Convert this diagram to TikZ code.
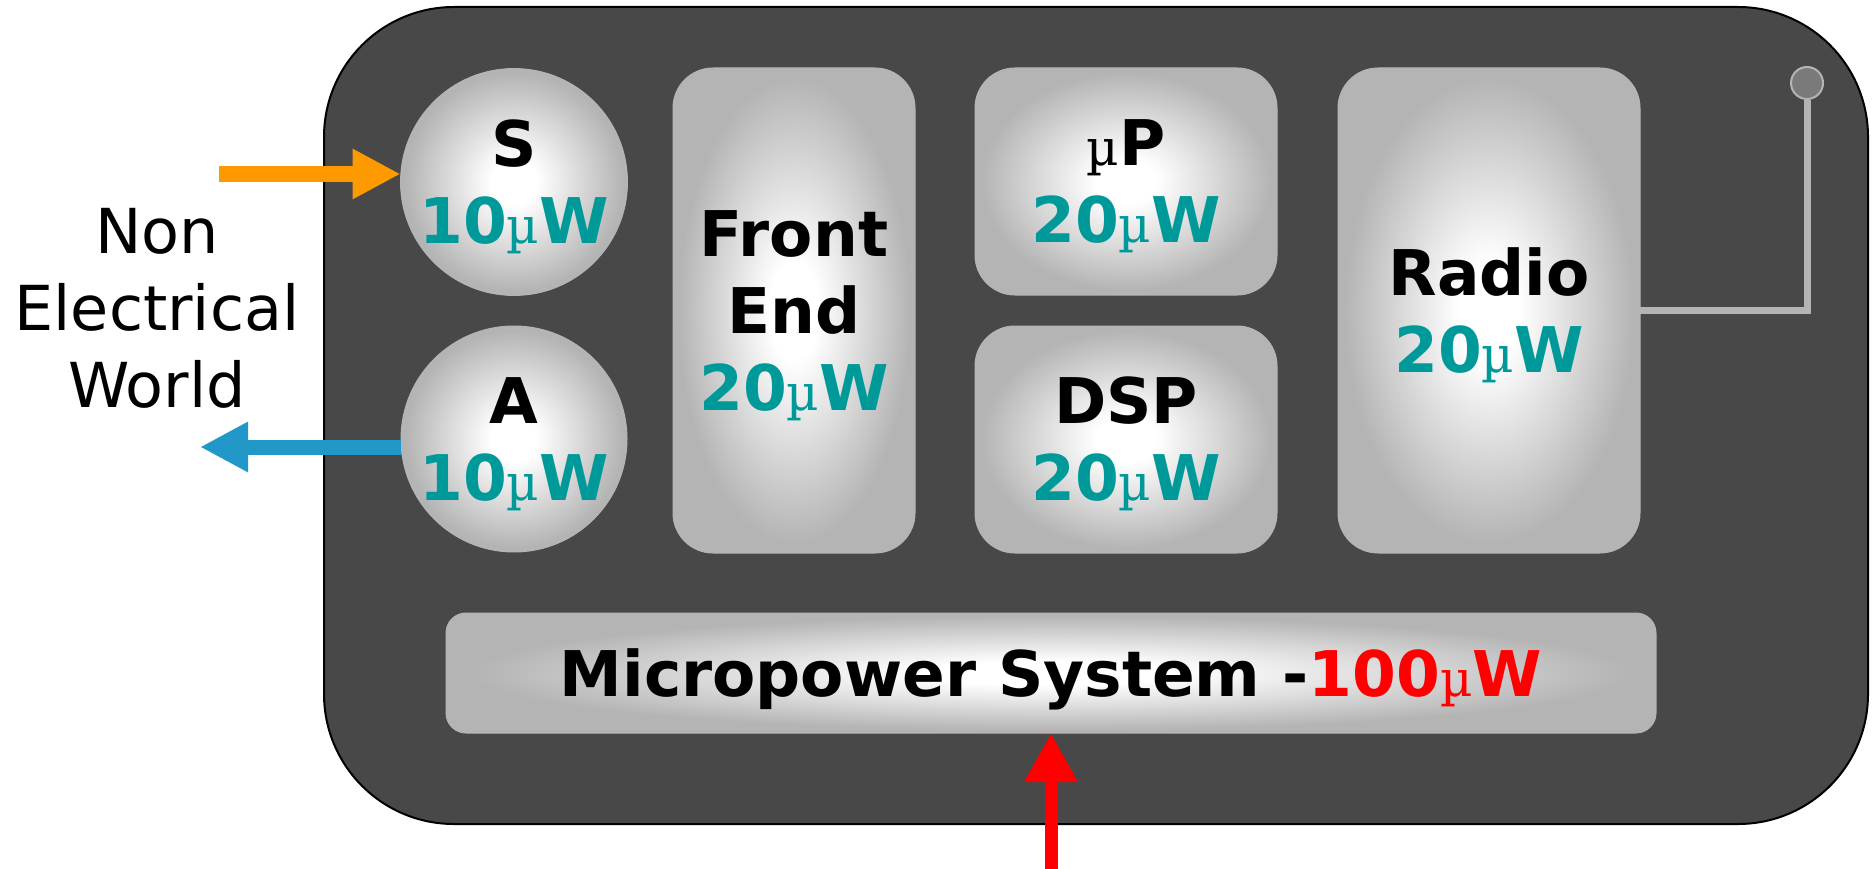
\documentclass[tikz,border=0pt]{standalone}
\usepackage{fontspec}
\setmainfont{DejaVu Sans}
\newfontfamily\mufont{DejaVu Serif}
\usetikzlibrary{arrows.meta}
\definecolor{boardgray}{RGB}{72,72,72}
\definecolor{boxgray}{RGB}{180,180,180}
\definecolor{antgray}{RGB}{122,122,122}
\definecolor{wteal}{RGB}{0,153,153}
\definecolor{worange}{RGB}{255,153,0}
\definecolor{wblue}{RGB}{33,152,200}
\definecolor{wred}{RGB}{255,0,0}
\pgfdeclareradialshading{glow}{\pgfpoint{0bp}{0bp}}{rgb(0bp)=(1,1,1);rgb(5bp)=(1,1,1);rgb(24bp)=(0.706,0.706,0.706);rgb(50bp)=(0.706,0.706,0.706)}
\newcommand{\umu}{\raisebox{0pt}[\height][0pt]{\mufont\mdseries\fontsize{50}{50}\selectfont µ}}
\tikzset{
  board/.style={draw=black, line width=2pt, fill=boardgray, rounded corners=130pt, inner sep=0pt, outer sep=0pt},
  unit/.style={shading=glow, draw=boxgray, line width=1pt, inner sep=0pt, outer sep=0pt, align=center, font=\fontsize{63}{77}\selectfont\bfseries},
  blk/.style={unit, rectangle, rounded corners=40pt},
  ball/.style={unit, circle, minimum size=226pt},
  inarrow/.style={draw=worange, line width=16pt, -{Triangle[length=48pt,width=47pt]}},
  outarrow/.style={draw=wblue, line width=15pt, -{Triangle[length=48pt,width=47pt]}},
  pwrarrow/.style={draw=wred, line width=13pt, -{Triangle[length=49pt,width=50pt]}},
  antline/.style={draw=boxgray, line width=7pt},
  antball/.style={circle, minimum size=32pt, inner sep=0pt, fill=antgray, draw=boxgray, line width=2pt},
  worldtext/.style={align=center, font=\fontsize{62}{77}\selectfont}
}
\begin{document}
\begin{tikzpicture}[x=1pt,y=-1pt]
\useasboundingbox (0,0) rectangle (1876,869);
\node[board, minimum width=1544pt, minimum height=817pt] (board) at (1096,415.5) {};
\node[ball] (S) at (514,182) {S\\\textcolor{wteal}{10\umu W}};
\node[ball] (A) at (514,439) {A\\\textcolor{wteal}{10\umu W}};
\node[blk, minimum width=242pt, minimum height=485pt] (fe) at (794,310.5) {Front\\End\\\textcolor{wteal}{20\umu W}};
\node[blk, minimum width=302pt, minimum height=227pt] (up) at (1126,181.5) {\umu P\\\textcolor{wteal}{20\umu W}};
\node[blk, minimum width=302pt, minimum height=227pt] (dsp) at (1126,439.5) {DSP\\\textcolor{wteal}{20\umu W}};
\node[blk, minimum width=302pt, minimum height=485pt] (radio) at (1489,310.5) {Radio\\\textcolor{wteal}{20\umu W}};
\node[blk, rounded corners=20pt, minimum width=1210pt, minimum height=120pt] (mp) at (1051,673) {\raisebox{0pt}[\height][0pt]{Micropower System -\textcolor{wred}{100\umu W}}};
\node[antball] (ant) at (1807,83) {};
\draw[antline] (radio.east) -| (ant.south);
\node[worldtext] (world) at (157,308) {Non\\Electrical\\World};
\coordinate (inS) at (219,174);
\coordinate (outA) at (200,447);
\coordinate (pwr) at (1051,869);
\draw[inarrow] (inS) -- (inS -| S.west);
\draw[outarrow] (outA -| A.west) -- (outA);
\draw[pwrarrow] (pwr) -- (mp.south);
\end{tikzpicture}
\end{document}
